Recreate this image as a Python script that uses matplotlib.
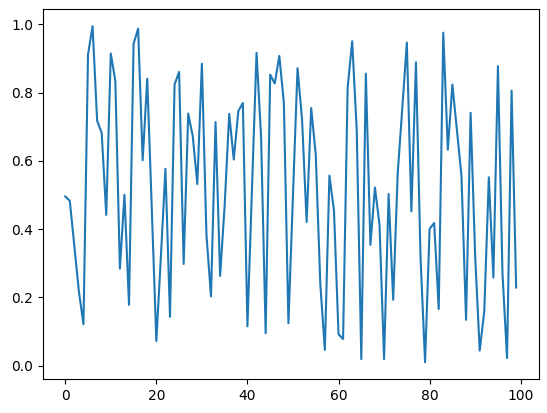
import numpy as np
import matplotlib
matplotlib.use('Agg')
import matplotlib.pyplot as plt

# values, index 0..99
values = [
    0.496, 0.483, 0.35, 0.217, 0.121, 0.912, 0.995, 0.718, 0.682, 0.442,
    0.915, 0.834, 0.284, 0.501, 0.178, 0.943, 0.988, 0.602, 0.841, 0.46,
    0.072, 0.32, 0.577, 0.143, 0.824, 0.861, 0.298, 0.739, 0.672, 0.532,
    0.885, 0.384, 0.203, 0.714, 0.263, 0.47, 0.738, 0.604, 0.746, 0.770,
    0.115, 0.52, 0.917, 0.67, 0.095, 0.853, 0.827, 0.908, 0.770, 0.124,
    0.50, 0.872, 0.72, 0.421, 0.755, 0.618, 0.24, 0.046, 0.557, 0.455,
    0.092, 0.078, 0.814, 0.951, 0.69, 0.019, 0.856, 0.354, 0.522, 0.413,
    0.019, 0.503, 0.193, 0.565, 0.755, 0.947, 0.452, 0.889, 0.32, 0.010,
    0.401, 0.418, 0.166, 0.976, 0.633, 0.824, 0.69, 0.555, 0.134, 0.741,
    0.32, 0.044, 0.159, 0.552, 0.258, 0.878, 0.27, 0.022, 0.806, 0.229,
]
x = np.arange(len(values))

fig = plt.figure(figsize=(5.47, 4.13), dpi=100)
ax = fig.add_axes([42.7 / 547, 34 / 413, 496 / 547, 369.6 / 413])
ax.plot(x, values)

fig.savefig('out.png', dpi=100)
